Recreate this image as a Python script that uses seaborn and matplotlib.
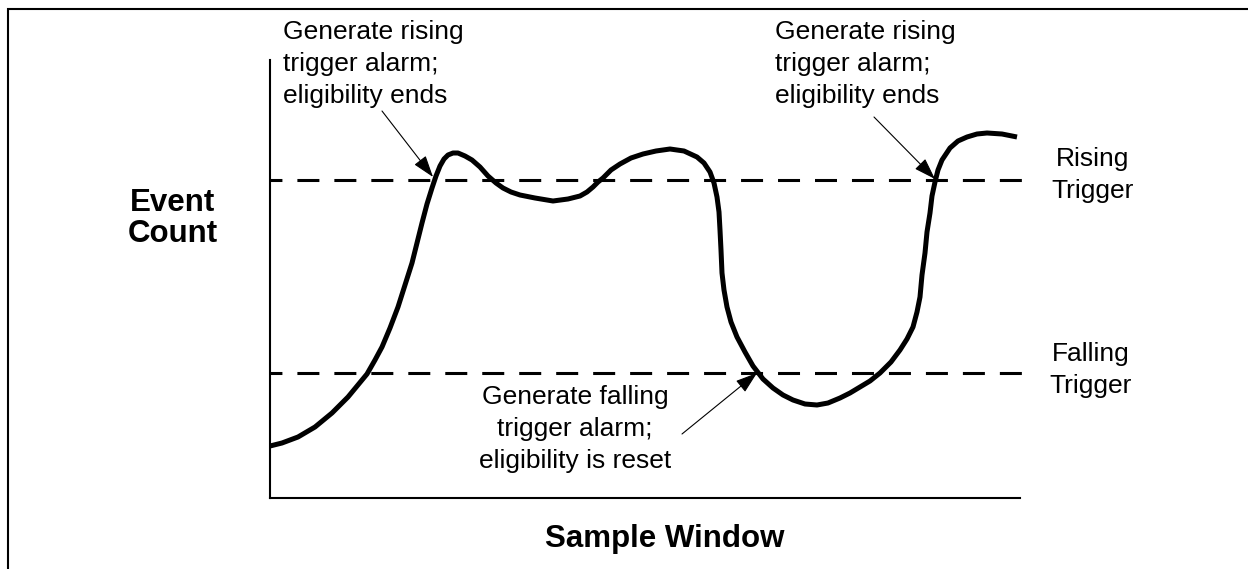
import matplotlib
matplotlib.use("Agg")
import matplotlib.pyplot as plt
from matplotlib.patches import Rectangle
import seaborn as sns
import pandas as pd

# Event count over the sample window (arbitrary units)
sample_x = [0, 12, 28, 45, 62, 78, 97, 105, 112, 120,
            128, 135, 142, 147, 152, 157, 162, 166, 170, 174,
            178, 183, 188, 195, 202, 210, 218, 226, 233, 241,
            250, 265, 283, 298, 310, 317, 323, 328, 333, 341,
            350, 361, 373, 386, 400, 414, 427, 434, 440, 444,
            447, 449, 450, 451, 452, 454, 457, 461, 467, 475,
            483, 493, 503, 513, 523, 535, 547, 558, 570, 580,
            590, 600, 610, 621, 630, 637, 643, 647, 650, 652,
            655, 657, 660, 662, 665, 668, 672, 680, 688, 697,
            707, 717, 732, 747]
event_count = [52, 55, 61, 71, 85, 101, 124, 138, 151, 170,
               191, 213, 235, 255, 275, 294, 310, 322, 332, 339,
               343, 345, 345, 342, 338, 331, 322, 315, 310, 306,
               303, 300, 297, 299, 302, 306, 311, 316, 320, 328,
               334, 340, 344, 347, 349, 347, 341, 335, 326, 315,
               301, 286, 268, 248, 225, 208, 191, 176, 161, 146,
               132, 119, 110, 103, 98, 94, 93, 95, 100, 105,
               111, 117, 125, 136, 148, 159, 171, 186, 201, 223,
               245, 266, 285, 302, 316, 328, 338, 350, 357, 361,
               364, 365, 364, 361]

# Threshold levels
rising_trigger = 318.5
falling_trigger = 125
trigger_x_end = 758

# Annotated crossing points: (tip x, tip y, tail x, tail y)
rising_alarm_1 = (163, 321, 112, 387)
rising_alarm_2 = (665, 319, 604, 381)
falling_alarm = (487, 125, 412, 64)

alarm_text_rising = "Generate rising\ntrigger alarm;\neligibility ends"
alarm_text_falling = "Generate falling\ntrigger alarm;\neligibility is reset"

df = pd.DataFrame({"sample": sample_x, "count": event_count})

sns.set_style("white")
plt.rcParams["font.family"] = ["Liberation Sans", "DejaVu Sans"]
plt.rcParams["text.color"] = "black"

W, H = 1248, 569
fig = plt.figure(figsize=(W / 100, H / 100), dpi=100)
ax = fig.add_axes([270 / W, 1 - 498 / H, 750 / W, 438 / H])
ax.set_xlim(0, 750)
ax.set_ylim(0, 438)

sns.lineplot(data=df, x="sample", y="count", sort=False, estimator=None,
             color="black", lw=3.6, ax=ax, solid_capstyle="butt",
             solid_joinstyle="round")

dash = (3.3, (7.2, 4.9))
for level in (rising_trigger, falling_trigger):
    ax.plot([0, trigger_x_end], [level, level], color="black", lw=2.2,
            linestyle=dash, dash_capstyle="butt", clip_on=False, zorder=1)

for side in ("top", "right"):
    ax.spines[side].set_visible(False)
for side in ("left", "bottom"):
    ax.spines[side].set_color("black")
    ax.spines[side].set_linewidth(1.5)
ax.set_xticks([])
ax.set_yticks([])
ax.set_xlabel("")
ax.set_ylabel("")

arrow_kw = dict(arrowstyle="-|>,head_length=0.9,head_width=0.3",
                mutation_scale=15, lw=0.8, color="black",
                shrinkA=0, shrinkB=0)
for tx, ty, sx, sy in (rising_alarm_1, rising_alarm_2, falling_alarm):
    ax.annotate("", xy=(tx, ty), xytext=(sx, sy), arrowprops=arrow_kw,
                annotation_clip=False)


def px(x, y):
    return x / W, 1 - y / H


fs = 19
bold_fs = 22.5
common = dict(fontsize=fs, va="baseline", linespacing=1.42, color="black")
fig.text(*px(283, 103), alarm_text_rising, ha="left", **common)
fig.text(*px(775, 103), alarm_text_rising, ha="left", **common)
fig.text(*px(575, 468), alarm_text_falling, ha="center",
         multialignment="center", **common)
fig.text(*px(1093, 198), "Rising\nTrigger", ha="center",
         multialignment="center", **common)
fig.text(*px(1091, 393), "Falling\nTrigger", ha="center",
         multialignment="center", **common)
fig.text(*px(173, 242), "Event\nCount", fontsize=bold_fs, fontweight="bold",
         ha="center", va="baseline", linespacing=1.05,
         multialignment="center", color="black")
fig.text(*px(665, 547), "Sample Window", fontsize=bold_fs, fontweight="bold",
         ha="center", va="baseline", color="black")

# outer frame
fig.patches.append(Rectangle((8 / W, -0.1), 2.0, (1 - 9 / H) + 0.1,
                             transform=fig.transFigure, fill=False,
                             edgecolor="black", lw=1.5))

fig.savefig("out.png", dpi=100, facecolor="white")
